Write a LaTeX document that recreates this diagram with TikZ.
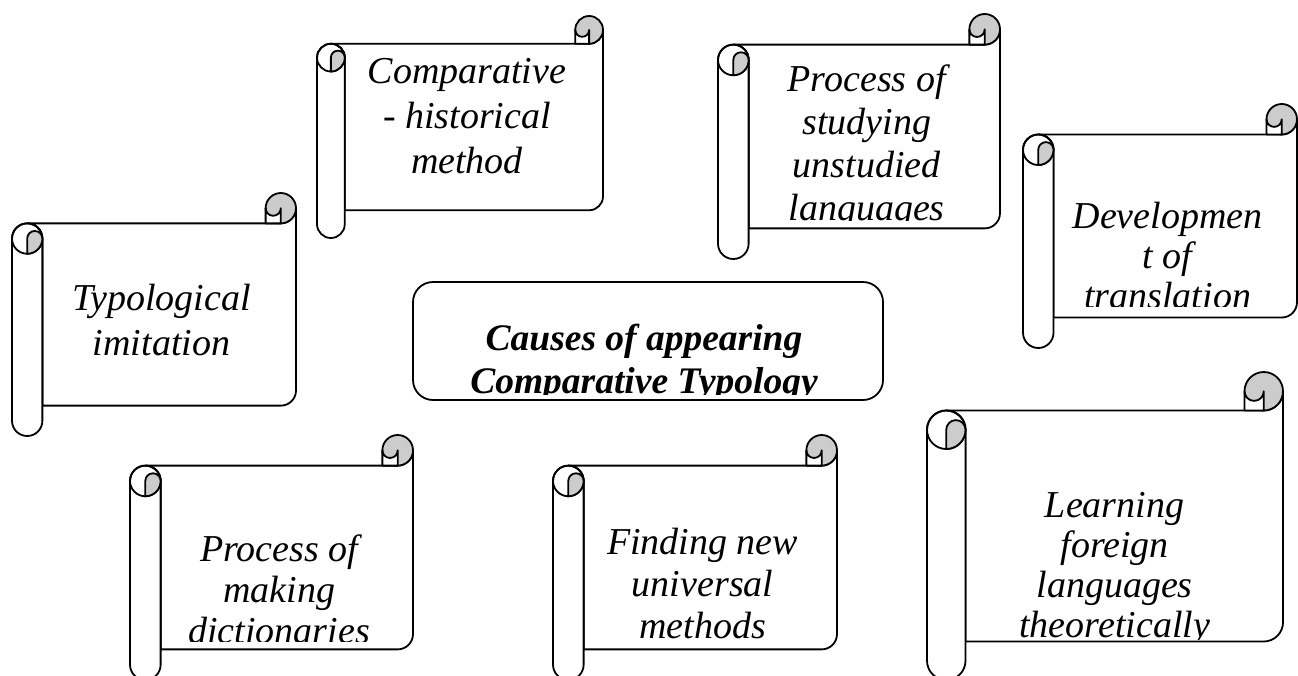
\documentclass[tikz,border=0pt]{standalone}
\usepackage{fontspec}
\setmainfont{Liberation Serif}
\usetikzlibrary{positioning}
\definecolor{curlgray}{gray}{0.8}
\tikzset{%
  sheet/.style = {draw,fill=white,line width=1.8pt,line join=round},
  curl/.style = {draw,fill=curlgray,line width=1.8pt},
  scrolltext/.style = {align=center,anchor=north,inner sep=0pt},
  titlebox/.style = {draw,rounded corners=20pt,line width=1.8pt,
        minimum width=470pt,minimum height=118pt},
  titletext/.style = {align=center,anchor=north,inner sep=0pt,
        font=\fontsize{37.5}{43}\selectfont\bfseries\itshape}
}
% #1 name, #2 left, #3 top, #4 width, #5 height,
% #6 first baseline, #7 line skip, #8 text cut-off, #9 text
\newcommand{\scrollshape}[9]{%
  \pgfmathsetmacro\scL{#2}%
  \pgfmathsetmacro\scT{#3}%
  \pgfmathsetmacro\scR{#2+#4}%
  \pgfmathsetmacro\scB{#3+#5}%
  \pgfmathsetmacro\scC{0.125*min(#4,#5)}%
  \pgfmathsetmacro\scH{\scC/2}%
  \pgfmathsetmacro\scQ{\scC/4}%
  \draw[sheet] (\scL+\scH,\scT+\scC) -- (\scR-\scH,\scT+\scC)
    arc[start angle=90,end angle=0,radius=\scH]
    -- (\scR,\scB-\scC-\scH) arc[start angle=0,end angle=90,radius=\scH]
    -- (\scL+\scC,\scB-\scC) -- (\scL+\scC,\scT+\scC+\scH)
    arc[start angle=0,end angle=-90,radius=\scH] -- cycle;
  \draw[sheet] (\scL,\scT+\scC+\scH) -- (\scL,\scB-\scH)
    arc[start angle=180,end angle=0,radius=\scH]
    -- (\scL+\scC,\scT+\scC+\scH) arc[start angle=0,end angle=-180,radius=\scH] -- cycle;
  \draw[line width=1.8pt] (\scL+\scH,\scT+\scC+\scH) circle[radius=\scH];
  \draw[curl] (\scL+\scH,\scT+\scC+\scC) -- (\scL+\scH,\scT+\scC+\scH)
    arc[start angle=180,end angle=360,radius=\scQ]
    arc[start angle=0,end angle=90,radius=\scH] -- cycle;
  \draw[curl] (\scR-\scH,\scT+\scH) circle[radius=\scH];
  \draw[sheet] (\scR-\scC,\scT+\scH) -- (\scR-\scC,\scT+\scC) -- (\scR-\scH,\scT+\scC)
    -- (\scR-\scH,\scT+\scH) arc[start angle=0,end angle=180,radius=\scQ] -- cycle;
  \begin{scope}
    \clip (\scL+\scC,\scT+\scC) rectangle (\scR-\scH,#8);
    \node[scrolltext,font=\fontsize{38}{#7}\selectfont\itshape] (#1)
      at ({(\scL+\scC+\scR-\scH)/2},{#6-0.7*#7}) {\strut #9};
  \end{scope}
}

\begin{document}
\begin{tikzpicture}[x=1pt,y=-1pt]
  \useasboundingbox (0,0) rectangle (1298,675);

  \scrollshape{typo}{12}{193}{284}{243}{310}{45}{400}{Typological\\imitation}
  \scrollshape{comp}{317}{16}{286}{222}{83}{45}{205}{Comparative\\- historical\\method}
  \scrollshape{stud}{718}{14}{282}{245}{91}{43}{220}{Process of\\studying\\unstudied\\languages}
  \scrollshape{trans}{1023}{104}{274}{244}{228}{40}{306}{Developmen\\t of\\translation}
  \scrollshape{dict}{130}{435}{283}{245}{561}{41}{641}{Process of\\making\\dictionaries}
  \scrollshape{find}{553}{435}{284}{245}{554}{42}{639}{Finding new\\universal\\methods}
  \scrollshape{learn}{927}{372}{356}{308}{517}{40}{639}{Learning\\foreign\\languages\\theoretically}

  % centre
  \node[titlebox] (title) at (648,341) {};
  \begin{scope}
    \clip (413,282) rectangle (883,394);
    \node[titletext] (causes) at (644,{350-0.7*43}) {\strut Causes of appearing\\Comparative Typology};
  \end{scope}
\end{tikzpicture}
\end{document}
